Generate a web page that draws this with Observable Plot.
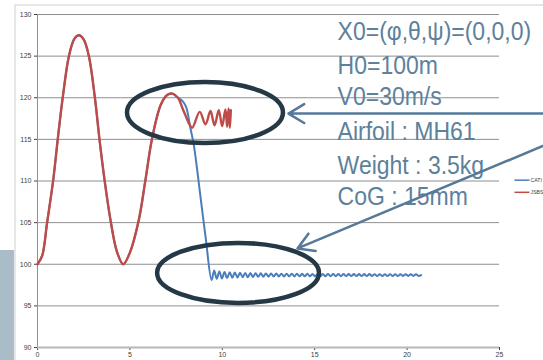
<!DOCTYPE html>
<html><head><meta charset="utf-8">
<script src="https://cdn.jsdelivr.net/npm/d3@7"></script>
<script src="https://cdn.jsdelivr.net/npm/@observablehq/plot@0.6"></script>
<style>
html,body{margin:0;padding:0;background:#fff;overflow:hidden}
#chart{width:543px;height:360px;overflow:hidden}
</style>
</head><body><div id="chart"></div>
<script>
// ---- data ----
const xTicks = [0, 5, 10, 15, 20, 25];
const yTicks = [90, 95, 100, 105, 110, 115, 120, 125, 130];

// common path of both simulations (time s, altitude m)
const sharedX = [0, 0.25, 0.52, 0.85, 1.10, 1.37, 1.70, 2.00, 2.24, 2.50, 2.78, 3.10, 3.35, 3.63, 3.95, 4.30, 4.64, 5.00, 5.48, 5.84, 6.20, 6.66, 7.00, 7.29, 7.60];
const sharedY = [100, 101.0, 105.0, 110.1, 115.1, 120.1, 125.0, 127.1, 127.5, 127.0, 125.0, 120.1, 115.1, 110.1, 105.3, 101.5, 100.0, 101.4, 105.3, 110.1, 115.1, 119.1, 120.3, 120.5, 120.0];

// JSBSim continuation (visible part)
const redX = [7.85, 8.04, 8.20, 8.37, 8.78, 9.09, 9.36, 9.58, 9.81, 9.99, 10.17, 10.26, 10.34, 10.41, 10.46];
const redY = [118.7, 117.7, 116.9, 116.4, 118.3, 116.8, 118.4, 116.7, 118.5, 116.6, 118.6, 116.5, 118.7, 116.4, 118.5];

// CATIA continuation
const blueX = [7.85, 8.04, 8.28, 8.46, 8.82, 9.10, 9.42,
  9.56, 9.70, 9.84, 9.98, 10.12, 10.26, 10.40, 10.54, 10.68, 10.82, 10.96, 11.10, 11.24, 11.38, 11.52, 11.66, 11.80, 11.94,
  12.08, 12.22, 12.36, 12.50, 12.64, 12.78, 12.92, 13.06, 13.20, 13.34, 13.48, 13.62, 13.76, 13.90, 14.04, 14.18, 14.32,
  14.46, 14.60, 14.74, 14.88, 15.02, 15.16, 15.30, 15.44, 15.58, 15.72, 15.86, 16.00, 16.14, 16.28, 16.42, 16.56, 16.70,
  16.84, 16.98, 17.12, 17.26, 17.40, 17.54, 17.68, 17.82, 17.96, 18.10, 18.24, 18.38, 18.52, 18.66, 18.80, 18.94, 19.08,
  19.22, 19.36, 19.50, 19.64, 19.78, 19.92, 20.06, 20.20, 20.34, 20.48, 20.62, 20.76];
const blueY = [119.6, 118.9, 116.3, 114.3, 108.1, 103.2, 98.1,
  99.25, 98.25, 99.12, 98.30, 99.08, 98.34, 99.04, 98.38, 99.00, 98.41, 98.98, 98.43, 98.96, 98.45, 98.94, 98.47, 98.92, 98.49,
  98.91, 98.50, 98.90, 98.51, 98.89, 98.52, 98.88, 98.53, 98.87, 98.53, 98.87, 98.54, 98.86, 98.54, 98.86, 98.55, 98.85,
  98.55, 98.85, 98.56, 98.84, 98.56, 98.84, 98.56, 98.84, 98.57, 98.83, 98.57, 98.83, 98.57, 98.83, 98.57, 98.83, 98.58,
  98.82, 98.58, 98.82, 98.58, 98.82, 98.58, 98.82, 98.58, 98.82, 98.59, 98.81, 98.59, 98.81, 98.59, 98.81, 98.59, 98.81,
  98.59, 98.81, 98.59, 98.81, 98.60, 98.80, 98.60, 98.80, 98.60, 98.80, 98.60, 98.70];

// legend labels as visible in the (cropped) reference
const seriesNames = ["CATI", "JSBS"];
const seriesColors = ["#4a7ebb", "#be4b48"];

const noteLines = ["X0=(φ,θ,ψ)=(0,0,0)", "H0=100m", "V0=30m/s", "Airfoil : MH61", "Weight : 3.5kg", "CoG : 15mm"];
const noteY = [127.9, 123.9, 120.1, 115.9, 111.9, 108.1];
const noteX = 16.24;

const arrowsData = [
  {x1: 29.5, y1: 118.1, x2: 13.58, y2: 118.1},
  {x1: 29.5, y1: 116.2, x2: 14.07, y2: 101.9}
];
const ellipsesData = [
  {cx: 9.09, cy: 118.17, rx: 4.22, ry: 3.66},
  {cx: 10.88, cy: 98.9, rx: 4.38, ry: 3.6}
];

// ---- build tables ----
const zip = (xs, ys) => xs.map((x, i) => ({x, y: ys[i]}));
const shared = zip(sharedX, sharedY);
const blue = shared.concat(zip(blueX, blueY));
const red = shared.concat(zip(redX, redY));
const notes = noteLines.map((t, i) => ({t, x: noteX, y: noteY[i]}));
const legendRows = [
  {name: seriesNames[0], x1: 25.81, x2: 26.62, tx: 26.68, y: 110.1},
  {name: seriesNames[1], x1: 25.81, x2: 26.62, tx: 26.68, y: 108.64}
];

const NOTE_FILL = "#5d819b";

const plot = Plot.plot({
  width: 543, height: 360,
  marginLeft: 37, marginRight: 44, marginTop: 14, marginBottom: 13,
  style: {fontFamily: "'Liberation Sans', Arial, sans-serif", fontSize: "7px", color: "#404040", background: "white", overflow: "visible"},
  x: {domain: [0, 25], ticks: xTicks, tickSize: 3, tickPadding: 2, label: null, tickFormat: d => String(d)},
  y: {domain: [90, 130], ticks: yTicks, tickSize: 3, tickPadding: 3, label: null, tickFormat: d => String(d)},
  marks: [
    Plot.ruleY(yTicks.filter(v => v > 90), {stroke: "#8f8f8f", strokeWidth: 1}),
    Plot.ruleX([0], {stroke: "#8f8f8f", strokeWidth: 1}),
    Plot.ruleY([90], {stroke: "#b8b8b8", strokeWidth: 2}),
    Plot.line(blue, {x: "x", y: "y", stroke: seriesColors[0], strokeWidth: 2, curve: "catmull-rom"}),
    Plot.line(red, {x: "x", y: "y", stroke: seriesColors[1], strokeWidth: 2.4, curve: "catmull-rom"}),
    Plot.link([legendRows[0]], {x1: "x1", x2: "x2", y1: "y", y2: "y", stroke: seriesColors[0], strokeWidth: 1.5}),
    Plot.link([legendRows[1]], {x1: "x1", x2: "x2", y1: "y", y2: "y", stroke: seriesColors[1], strokeWidth: 1.5}),
    Plot.text(legendRows, {x: "tx", y: "y", text: "name", textAnchor: "start", lineAnchor: "middle", fontSize: 5.2, fill: "#404040"}),
    Plot.text(notes, {x: "x", y: "y", text: "t", textAnchor: "start", lineAnchor: "middle", fontSize: 23, fill: NOTE_FILL, fontFamily: "'Liberation Sans', Arial, sans-serif"}),
    Plot.arrow(arrowsData, {x1: "x1", y1: "y1", x2: "x2", y2: "y2", stroke: "#56799a", strokeWidth: 2.5, headLength: 11, headAngle: 62})
  ]
});

document.getElementById("chart").appendChild(plot);

// ---- decorations using the plot's scales ----
const svg = d3.select(plot);
const sx = plot.scale("x"), sy = plot.scale("y");
const fx = d3.scaleLinear(sx.domain, sx.range);
const fy = d3.scaleLinear(sy.domain, sy.range);

// outer chart frame and slide block behind
svg.insert("rect", ":first-child").attr("x", 15).attr("y", 5).attr("width", 700).attr("height", 500)
  .attr("fill", "none").attr("stroke", "#cfcfcf").attr("stroke-width", 1);
svg.insert("rect", ":first-child").attr("x", 0).attr("y", 250).attr("width", 14).attr("height", 120)
  .attr("fill", "#a9bcc8");

// vertical stretch of the note text
plot.querySelectorAll("text").forEach(t => {
  if (!t.closest(`[fill="${NOTE_FILL}"]`)) return;
  const tr = t.getAttribute("transform");
  if (tr) t.setAttribute("transform", tr + " scale(1,1.15)");
  else {
    const x = +t.getAttribute("x") || 0, y = +t.getAttribute("y") || 0;
    t.setAttribute("x", 0); t.setAttribute("y", 0);
    t.setAttribute("transform", `translate(${x},${y}) scale(1,1.15)`);
  }
});

// ellipses
const eg = svg.append("g").attr("fill", "none").attr("stroke", "#253845").attr("stroke-width", 4.5);
ellipsesData.forEach(e => {
  eg.append("ellipse")
    .attr("cx", fx(e.cx)).attr("cy", fy(e.cy))
    .attr("rx", Math.abs(fx(e.cx + e.rx) - fx(e.cx)))
    .attr("ry", Math.abs(fy(e.cy + e.ry) - fy(e.cy)));
});
// keep arrows on top
const arrowG = plot.querySelector('g[aria-label="arrow"]');
if (arrowG) plot.appendChild(arrowG);
</script>
</body></html>
